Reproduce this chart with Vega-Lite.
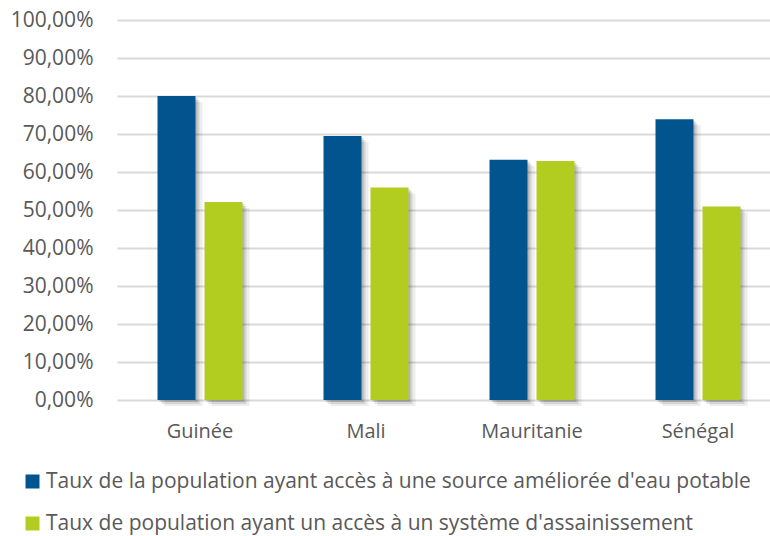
{
  "$schema": "https://vega.github.io/schema/vega-lite/v6.json",
  "autosize": "none",
  "width": 653,
  "height": 380,
  "padding": {"top": 20, "left": 117, "right": 0, "bottom": 136},
  "background": "white",
  "config": {
    "font": "Open Sans",
    "view": {"stroke": null},
    "axis": {"labelColor": "#595959", "labelFontSize": 21, "labelFont": "Open Sans"}
  },
  "data": {
    "values": [
      {"pays": "Guinée", "serie": "Taux de la population ayant accès à une source améliorée d'eau potable", "taux": 0.800},
      {"pays": "Guinée", "serie": "Taux de population ayant un accès à un système d'assainissement", "taux": 0.521},
      {"pays": "Mali", "serie": "Taux de la population ayant accès à une source améliorée d'eau potable", "taux": 0.695},
      {"pays": "Mali", "serie": "Taux de population ayant un accès à un système d'assainissement", "taux": 0.559},
      {"pays": "Mauritanie", "serie": "Taux de la population ayant accès à une source améliorée d'eau potable", "taux": 0.632},
      {"pays": "Mauritanie", "serie": "Taux de population ayant un accès à un système d'assainissement", "taux": 0.629},
      {"pays": "Sénégal", "serie": "Taux de la population ayant accès à une source améliorée d'eau potable", "taux": 0.739},
      {"pays": "Sénégal", "serie": "Taux de population ayant un accès à un système d'assainissement", "taux": 0.509}
    ]
  },
  "encoding": {
    "x": {
      "field": "pays",
      "type": "nominal",
      "sort": ["Guinée", "Mali", "Mauritanie", "Sénégal"],
      "scale": {"range": [0, 664], "paddingInner": 0.488, "paddingOuter": 0.244},
      "axis": {"title": null, "labelAngle": 0, "labelFontSize": 20, "domain": false, "ticks": false, "labelPadding": 21, "grid": false}
    },
    "y": {
      "field": "taux",
      "type": "quantitative",
      "scale": {"domain": [0, 1], "nice": false},
      "axis": {
        "title": null,
        "values": [0, 0.1, 0.2, 0.3, 0.4, 0.5, 0.6, 0.7, 0.8, 0.9, 1],
        "labelExpr": "replace(format(datum.value, '.2%'), '.', ',')",
        "domain": false,
        "ticks": false,
        "labelPadding": 24,
        "gridColor": "#D9D9D9",
        "gridWidth": 2
      }
    }
  },
  "layer": [
    {
      "mark": {"type": "bar", "color": "#000000", "opacity": 0.07, "yOffset": 6},
      "encoding": {
        "xOffset": {"field": "serie", "type": "nominal", "scale": {"range": [7, 92], "paddingInner": 0.1915, "paddingOuter": 0}}
      }
    },
    {
      "mark": {"type": "bar", "color": "#000000", "opacity": 0.1, "yOffset": 4},
      "encoding": {
        "xOffset": {"field": "serie", "type": "nominal", "scale": {"range": [4, 89], "paddingInner": 0.1915, "paddingOuter": 0}}
      }
    },
    {
      "mark": {"type": "bar", "color": "#000000", "opacity": 0.14, "yOffset": 2},
      "encoding": {
        "xOffset": {"field": "serie", "type": "nominal", "scale": {"range": [2, 87], "paddingInner": 0.1915, "paddingOuter": 0}}
      }
    },
    {
      "mark": {"type": "bar"},
      "encoding": {
        "xOffset": {"field": "serie", "type": "nominal", "scale": {"range": [0, 85], "paddingInner": 0.1915, "paddingOuter": 0}},
        "color": {
          "field": "serie",
          "type": "nominal",
          "scale": {
            "domain": [
              "Taux de la population ayant accès à une source améliorée d'eau potable",
              "Taux de population ayant un accès à un système d'assainissement"
            ],
            "range": ["#02548E", "#B2CC20"]
          },
          "legend": {
            "title": null,
            "orient": "none",
            "legendX": -95,
            "legendY": 451,
            "direction": "vertical",
            "symbolType": "square",
            "symbolSize": 196,
            "symbolOpacity": 1,
            "labelFontSize": 21,
            "labelColor": "#595959",
            "labelFont": "Open Sans",
            "labelLimit": 800,
            "labelOffset": 3,
            "rowPadding": 20,
            "encode": {
              "symbols": {
                "update": {
                  "fill": {"signal": "datum.index === 0 ? '#0070C0' : '#B5D01E'"},
                  "stroke": {"value": "transparent"}
                }
              }
            }
          }
        }
      }
    }
  ],
  "resolve": {"scale": {"xOffset": "independent"}}
}
